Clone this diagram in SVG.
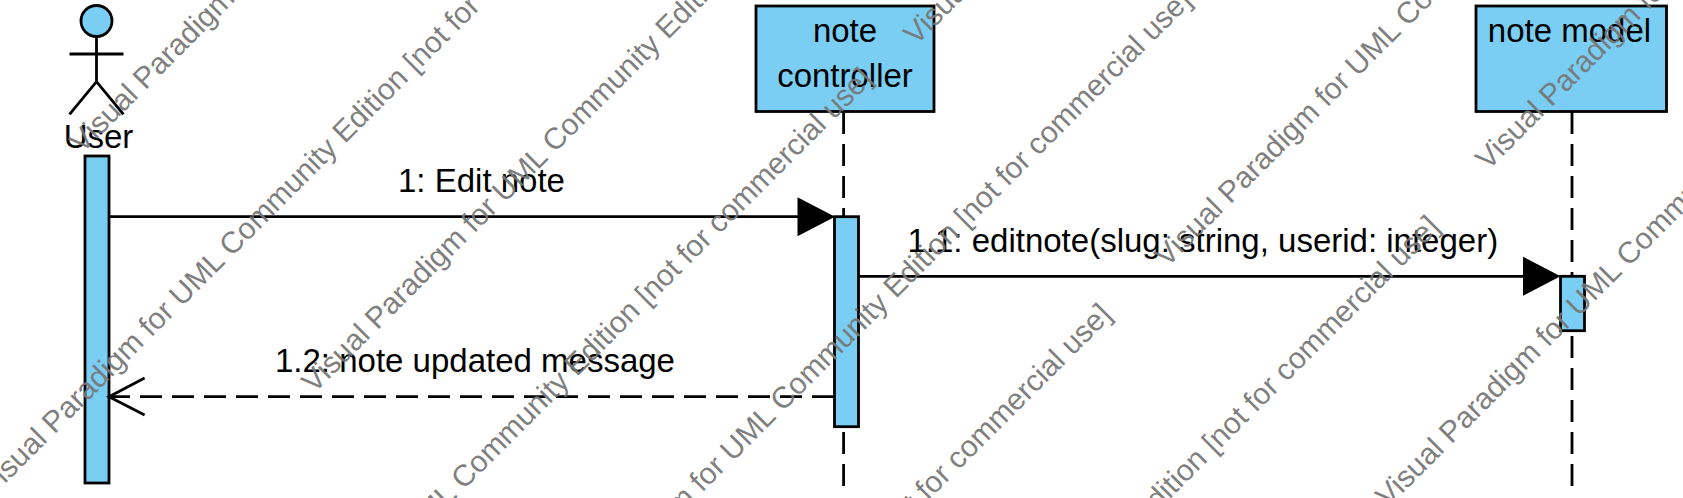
<svg xmlns="http://www.w3.org/2000/svg" width="1683" height="498" viewBox="0 0 1683 498">
<style>
text{font-family:"Liberation Sans",Arial,sans-serif}
.t{font-size:33px;fill:#000}
.m{text-anchor:middle}
.s{fill:#7acef4;stroke:#000;stroke-width:2.8}
.l{fill:none;stroke:#000;stroke-width:2.8}
.d{stroke-dasharray:22 10}
.w{font-size:30px;fill:#777;fill-opacity:.95}
</style>
<defs>
<path id="fh" d="M0 0L-37.500 -19.500V19.500Z" fill="#000"/>
</defs>
<g id="user">
<circle class="s" cx="96.500" cy="21" r="15.500"/>
<path class="l" d="M96.500 36.500V81.700M69.500 54H123.500M69.500 114.300L96.500 81.700L123.500 114.300"/>
<text class="t m" x="98.500" y="147.500">User</text>
<rect class="s" x="85" y="156" width="24" height="327"/>
</g>
<g id="note-controller">
<path class="l d" d="M843.600 112V487"/>
<rect class="s" x="756" y="6" width="178" height="105.500"/>
<text class="t m" x="845" y="41.700">note</text>
<text class="t m" x="845" y="86.700">controller</text>
<rect class="s" x="834.500" y="216.700" width="24" height="210"/>
</g>
<g id="note-model">
<path class="l d" d="M1572 112V487"/>
<rect class="s" x="1476" y="6" width="190.500" height="105.500"/>
<text class="t m" x="1569.500" y="41.700">note model</text>
<rect class="s" x="1560.500" y="276.300" width="24" height="54.400"/>
</g>
<g id="connectors">
<path class="l" d="M109 216.700H800"/><use href="#fh" x="835" y="216.700"/>
<text class="t" x="398" y="192.200">1: Edit note</text>
<path class="l" d="M858.500 276.300H1525"/><use href="#fh" x="1560.500" y="276.300"/>
<text class="t" x="907.500" y="252.200">1.1: editnote(slug: string, userid: integer)</text>
<path class="l d" d="M834 396.700H109"/>
<path class="l" d="M144.600 378L109 396.700L144.600 415"/>
<text class="t" x="275" y="371.700">1.2: note updated message</text>
</g>
<g id="watermark">
<text class="w" transform="translate(82 154) rotate(-45)">Visual Paradigm for UML Community Edition [not for commercial use]</text>
<text class="w" transform="translate(-9 498) rotate(-45)">Visual Paradigm for UML Community Edition [not for commercial use]</text>
<text class="w" transform="translate(314 394) rotate(-45)">Visual Paradigm for UML Community Edition [not for commercial use]</text>
<text class="w" transform="translate(223 731) rotate(-45)">Visual Paradigm for UML Community Edition [not for commercial use]</text>
<text class="w" transform="translate(916 46) rotate(-45)">Visual Paradigm for UML Community Edition [not for commercial use]</text>
<text class="w" transform="translate(542 653) rotate(-45)">Visual Paradigm for UML Community Edition [not for commercial use]</text>
<text class="w" transform="translate(462 967) rotate(-45)">Visual Paradigm for UML Community Edition [not for commercial use]</text>
<text class="w" transform="translate(1167 268) rotate(-45)">Visual Paradigm for UML Community Edition [not for commercial use]</text>
<text class="w" transform="translate(790 879) rotate(-45)">Visual Paradigm for UML Community Edition [not for commercial use]</text>
<text class="w" transform="translate(1488 171) rotate(-45)">Visual Paradigm for UML Community Edition [not for commercial use]</text>
<text class="w" transform="translate(1388 508) rotate(-45)">Visual Paradigm for UML Community Edition [not for commercial use]</text>
</g>
</svg>
